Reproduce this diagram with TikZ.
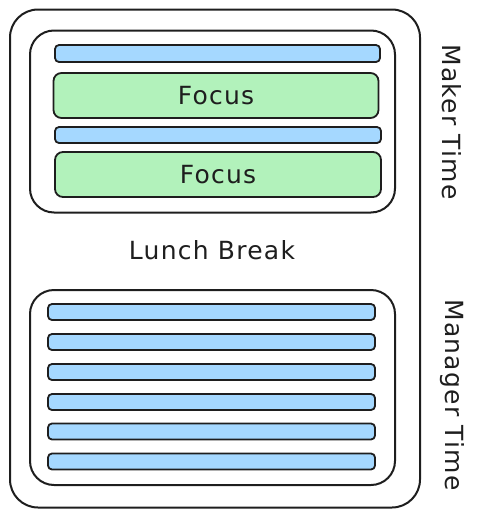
\documentclass[tikz,border=0pt]{standalone}
\usepackage{fontspec}
\setmainfont{DejaVu Sans}[LetterSpace=5]
\definecolor{ink}{HTML}{1E1E1E}
\definecolor{bluebar}{HTML}{A5D8FF}
\definecolor{greenbar}{HTML}{B2F2BB}
\tikzset{
  outerbox/.style={draw=ink, line width=2pt, rounded corners=28pt, inner sep=0pt, outer sep=0pt},
  innerbox/.style={draw=ink, line width=2pt, rounded corners=24pt, inner sep=0pt, outer sep=0pt},
  bluestrip/.style={draw=ink, fill=bluebar, line width=1.8pt, rounded corners=4pt, inner sep=0pt, outer sep=0pt},
  greenstrip/.style={draw=ink, fill=greenbar, line width=1.8pt, rounded corners=8pt, inner sep=0pt, outer sep=0pt, font=\fontsize{25}{28}\selectfont, text=ink},
  lbl/.style={font=\fontsize{25}{28}\selectfont, text=ink, inner sep=0pt},
}
\begin{document}
\begin{tikzpicture}[x=1pt,y=-1pt]
\useasboundingbox (0,0) rectangle (481,517);
% outer
\node[outerbox, minimum width=410pt, minimum height=498pt] (outer) at (215,258.5) {};
% top inner
\node[innerbox, minimum width=365pt, minimum height=182pt] (maker) at (212.5,121.5) {};
\node[bluestrip, minimum width=325pt, minimum height=17pt] (b1) at (217.5,53.5) {};
\node[greenstrip, minimum width=325pt, minimum height=45pt] (f1) at (216,95.5) {Focus};
\node[bluestrip, minimum width=326pt, minimum height=16pt] (b2) at (218,135) {};
\node[greenstrip, minimum width=326pt, minimum height=45pt] (f2) at (218,174.5) {Focus};
% lunch
\node[lbl] (lunch) at (212,250) {Lunch Break};
% bottom inner
\node[innerbox, minimum width=365pt, minimum height=195pt] (manager) at (212.5,387.5) {};
\foreach \i/\y in {1/312,2/342,3/372,4/402,5/431.5,6/461.5}{
  \node[bluestrip, minimum width=327pt, minimum height=16pt] (m\i) at (211.5,\y) {};
}
% side labels
\node[lbl, rotate=-90] (makerlbl) at (452,122) {Maker Time};
\node[lbl, rotate=-90] (managerlbl) at (452,395) {Manager Time};
\end{tikzpicture}
\end{document}
